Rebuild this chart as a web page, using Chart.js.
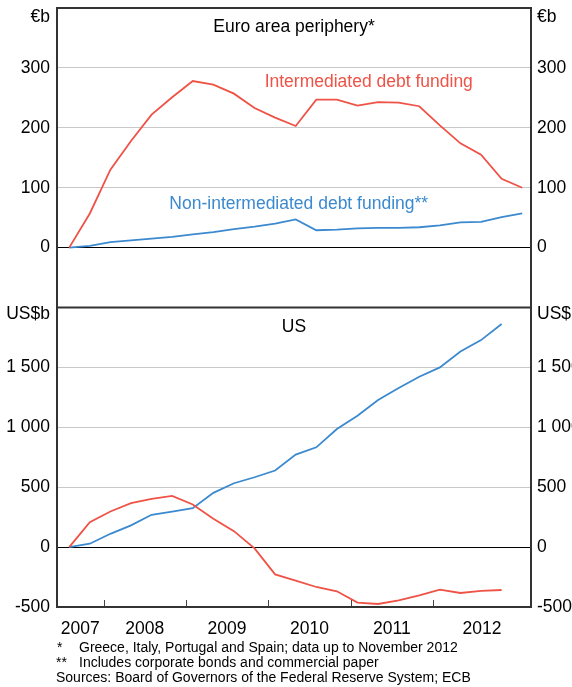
<!DOCTYPE html>
<html><head><meta charset="utf-8">
<script src="https://cdn.jsdelivr.net/npm/chart.js@4/dist/chart.umd.min.js"></script>
<style>
html,body{margin:0;padding:0;background:#fff;}
#wrap{position:relative;width:572px;height:687px;overflow:hidden;}
canvas{position:absolute;left:0;top:0;}
.fn{position:absolute;left:0;width:572px;height:15px;font:14px "Liberation Sans",Arial,sans-serif;color:#000;white-space:nowrap;line-height:15px;}
.fn span{position:absolute;top:0;}
</style></head><body>
<div id="wrap">
<canvas id="c" width="572" height="687"></canvas>
<div class="fn" style="top:640px"><span style="left:57px">*</span><span style="left:79px">Greece, Italy, Portugal and Spain; data up to November 2012</span></div>
<div class="fn" style="top:655px"><span style="left:56px">**</span><span style="left:79px">Includes corporate bonds and commercial paper</span></div>
<div class="fn" style="top:670px"><span style="left:56px">Sources: Board of Governors of the Federal Reserve System; ECB</span></div>
</div>
<script>
// ---- data ----
const periods = ['2007-08','2007-11','2008-02','2008-05','2008-08','2008-11','2009-02','2009-05','2009-08','2009-11',
  '2010-02','2010-05','2010-08','2010-11','2011-02','2011-05','2011-08','2011-11','2012-02','2012-05','2012-08','2012-11','2013-02'];
const euroIntermediated    = [0, 57, 130, 178, 222, 251, 278, 272, 257, 233, 217, 203, 247, 247, 237, 243, 242, 236, 204, 174, 155, 115, 100];
const euroNonIntermediated = [0, 3, 9, 12, 15, 18, 22, 26, 31, 35, 40, 47, 29, 30, 32, 33, 33, 34, 37, 42, 43, 51, 57];
const usIntermediated      = [0, 208, 297, 367, 403, 428, 356, 237, 133, -11, -228, -280, -333, -369, -463, -475, -444, -403, -355, -383, -366, -358];
const usNonIntermediated   = [0, 28, 111, 181, 270, 297, 325, 453, 533, 583, 639, 772, 833, 986, 1097, 1228, 1328, 1422, 1500, 1633, 1728, 1862];
const years = [2007, 2008, 2009, 2010, 2011, 2012];
const yearBoundaries = [2008, 2009, 2010, 2011, 2012];
const euroTicks = [0, 100, 200, 300];
const usTicks = [-500, 0, 500, 1000, 1500];

const X_MIN = 2007.435, X_MAX = 2013.19;
const RED = '#ef5246', BLUE = '#3b89cf';
const FONT = '"Liberation Sans", Arial, sans-serif';
const FS = 17.5;

function toYear(p){ const [y,m] = p.split('-').map(Number); return y + (m-1)/12; }
function series(vals){ return vals.map((v,i)=>({x: toYear(periods[i]), y: v})); }
function fmt(v){ return String(v).replace(/\B(?=(\d{3})+(?!\d))/g, ' '); }
const yearLabelPos = years.map(y => y === 2007 ? (X_MIN+2008)/2 : (y === 2012 ? (2012+X_MAX)/2 : y+0.5));

Chart.defaults.font.family = FONT;
Chart.defaults.font.size = FS;
Chart.defaults.color = '#000';

const gridCol = c => (c.tick && c.tick.value === 0) ? '#000' : (c.tick && (c.tick.value === -500) ? '#333' : '#c8c8c8');

function yAxis(ticks, min, max, side, weight, grid){
  return {
    type: 'linear', position: side, stack: side, stackWeight: 1, weight: weight,
    min: min, max: max,
    afterBuildTicks: s => { s.ticks = ticks.map(v => ({value: v})); },
    afterFit: s => { s.width = side === 'left' ? 57 : 41; s.paddingTop = 0; s.paddingBottom = 0; },
    border: {display: false},
    grid: grid ? {color: gridCol, lineWidth: 1, drawTicks: false} : {display: false, drawTicks: false},
    ticks: {callback: v => fmt(v), padding: side === 'left' ? 7 : 6, font: {size: FS}}
  };
}

const decor = {
  id: 'decor',
  afterDatasetsDraw(chart){
    const {ctx, chartArea: a, scales} = chart;
    const x = scales.x, yT = scales.yTop, yB = scales.yBot;
    ctx.save();
    // x tick marks inside the bottom border
    ctx.strokeStyle = '#444'; ctx.lineWidth = 1;
    yearBoundaries.forEach(v => {
      const px = Math.round(x.getPixelForValue(v)) + 0.5;
      ctx.beginPath(); ctx.moveTo(px, a.bottom); ctx.lineTo(px, a.bottom - 7); ctx.stroke();
    });
    // frame
    ctx.strokeStyle = '#333'; ctx.lineWidth = 2;
    ctx.beginPath();
    ctx.moveTo(a.left, a.top); ctx.lineTo(a.right, a.top);
    ctx.moveTo(a.left, yT.bottom); ctx.lineTo(a.right, yT.bottom);
    ctx.moveTo(a.left, a.bottom); ctx.lineTo(a.right, a.bottom);
    ctx.moveTo(a.left, a.top - 1); ctx.lineTo(a.left, a.bottom + 1);
    ctx.moveTo(a.right, a.top - 1); ctx.lineTo(a.right, a.bottom + 1);
    ctx.stroke();
    // units
    ctx.fillStyle = '#000'; ctx.font = FS + 'px ' + FONT; ctx.textBaseline = 'alphabetic';
    ctx.textAlign = 'right';
    ctx.fillText('€b', a.left - 7, yT.top + 14);
    ctx.fillText('US$b', a.left - 7, yB.top + 11);
    ctx.textAlign = 'left';
    ctx.fillText('€b', a.right + 6, yT.top + 14);
    ctx.fillText('US$b', a.right + 6, yB.top + 11);
    // panel titles
    ctx.textAlign = 'center';
    const cx = (a.left + a.right) / 2;
    ctx.fillText('Euro area periphery*', cx, yT.top + 24);
    ctx.fillText('US', cx, yB.top + 24);
    // series labels (anchored in data units)
    ctx.fillStyle = RED;
    ctx.fillText('Intermediated debt funding', x.getPixelForValue(2011.22), yT.getPixelForValue(268));
    ctx.fillStyle = BLUE;
    ctx.fillText('Non-intermediated debt funding**', x.getPixelForValue(2010.37), yT.getPixelForValue(65));
    ctx.restore();
  }
};

new Chart(document.getElementById('c'), {
  type: 'line',
  data: {
    datasets: [
      {label: 'Euro intermediated', data: series(euroIntermediated), yAxisID: 'yTop', borderColor: RED},
      {label: 'Euro non-intermediated', data: series(euroNonIntermediated), yAxisID: 'yTop', borderColor: BLUE},
      {label: 'US intermediated', data: series(usIntermediated), yAxisID: 'yBot', borderColor: RED},
      {label: 'US non-intermediated', data: series(usNonIntermediated), yAxisID: 'yBot', borderColor: BLUE}
    ]
  },
  options: {
    responsive: false, animation: false, devicePixelRatio: 1,
    layout: {padding: {top: 8, bottom: 40, left: 0, right: 0}},
    elements: {line: {borderWidth: 1.8, tension: 0}, point: {radius: 0, hoverRadius: 0}},
    plugins: {legend: {display: false}, tooltip: {enabled: false}},
    events: [],
    scales: {
      x: {
        type: 'linear', position: 'bottom', min: X_MIN, max: X_MAX,
        afterBuildTicks: s => { s.ticks = yearLabelPos.map(v => ({value: v})); },
        afterFit: s => { s.height = 40; s.paddingLeft = 0; s.paddingRight = 0; },
        border: {display: false},
        grid: {display: false, drawTicks: false},
        ticks: {callback: v => String(Math.floor(v)), padding: 12, maxRotation: 0, autoSkip: false, font: {size: FS}}
      },
      yTop: yAxis(euroTicks, -100, 400, 'left', 2, true),
      yBot: yAxis(usTicks, -500, 2000, 'left', 1, true),
      yTopR: yAxis(euroTicks, -100, 400, 'right', 1, false),
      yBotR: yAxis(usTicks, -500, 2000, 'right', 2, false)
    }
  },
  plugins: [decor]
});
</script>
</body></html>
